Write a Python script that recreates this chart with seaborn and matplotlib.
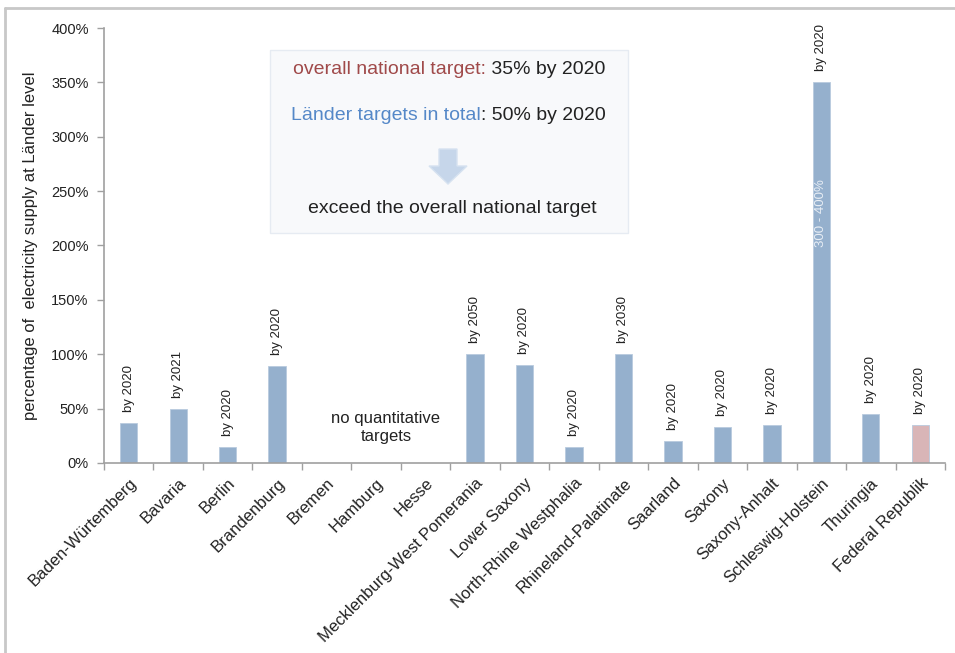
import numpy as np
import pandas as pd
import matplotlib
matplotlib.use("Agg")
import matplotlib.pyplot as plt
from matplotlib.patches import Rectangle, Polygon
from matplotlib.lines import Line2D
import seaborn as sns

states = ["Baden-Würtemberg", "Bavaria", "Berlin", "Brandenburg", "Bremen", "Hamburg",
          "Hesse", "Mecklenburg-West Pomerania", "Lower Saxony", "North-Rhine Westphalia",
          "Rhineland-Palatinate", "Saarland", "Saxony", "Saxony-Anhalt",
          "Schleswig-Holstein", "Thuringia", "Federal Republik"]
values = [37, 50, 15, 89, np.nan, np.nan, np.nan, 100, 90, 15, 100, 20, 33, 35, 350, 45, 35]
years = ["by 2020", "by 2021", "by 2020", "by 2020", None, None, None, "by 2050", "by 2020",
         "by 2020", "by 2030", "by 2020", "by 2020", "by 2020", "by 2020", "by 2020", "by 2020"]
yticks = [0, 50, 100, 150, 200, 250, 300, 350, 400]
ytick_labels = ["0%", "50%", "100%", "150%", "200%", "250%", "300%", "350%", "400%"]

BLUE = "#95b0cd"
PINK = "#d9b5b7"
palette = {s: (PINK if s == "Federal Republik" else BLUE) for s in states}

sns.set_theme(style="white")
plt.rcParams["font.family"] = ["Liberation Sans", "DejaVu Sans"]

W, H = 955, 653
fig = plt.figure(figsize=(W / 100, H / 100), dpi=100)
ax = fig.add_axes([104 / W, 1 - 463 / H, (945 - 104) / W, (463 - 28) / H])

df = pd.DataFrame({"state": states, "value": values})
sns.barplot(data=df, x="state", y="value", hue="state", palette=palette, order=states,
            hue_order=states, width=0.35, saturation=1, legend=False, ax=ax,
            edgecolor="#b9cade", linewidth=0.6)

ax.set_xlim(-0.5, len(states) - 0.5)
ax.set_ylim(0, 400)
ax.set_yticks(yticks)
ax.set_yticklabels(ytick_labels, fontsize=10.5, color="#222222")
ax.set_xticks(range(len(states)))
ax.set_xticklabels(states, rotation=45, ha="right", va="top", rotation_mode="anchor",
                   fontsize=12, color="#222222")
ax.set_xticks(np.arange(-0.5, len(states), 1.0), minor=True)
ax.tick_params(axis="x", which="major", length=0, pad=9)
ax.tick_params(axis="x", which="minor", length=5, width=1, color="#a0a0a0", direction="out", bottom=True)
ax.tick_params(axis="y", length=5, width=1, color="#a0a0a0", direction="out", left=True, pad=6)
ax.set_xlabel("")
ax.set_ylabel("percentage of  electricity supply at Länder level", fontsize=12,
              color="#222222", labelpad=6)
ax.yaxis.set_label_coords(-0.078, 0.5)
for side in ["top", "right"]:
    ax.spines[side].set_visible(False)
for side in ["left", "bottom"]:
    ax.spines[side].set_color("#a0a0a0")
    ax.spines[side].set_linewidth(1.2)
ax.grid(False)

for i, (v, y) in enumerate(zip(values, years)):
    if y is None or np.isnan(v):
        continue
    ax.annotate(y, xy=(i, v), xytext=(0, 8), textcoords="offset points", rotation=90,
                ha="center", va="bottom", fontsize=9.5, color="#222222")

ax.text(14, 230, "300 - 400%", rotation=90, ha="center", va="center", fontsize=9.5,
        color="#e8eef5")
ax.text(5.2, 33, "no quantitative\ntargets", ha="center", va="center", fontsize=12,
        color="#222222", linespacing=1.25)

def fx(x):
    return x / W

def fy(y):
    return 1 - y / H

# Info box
fig.patches.append(Rectangle((fx(270), fy(233)), fx(628) - fx(270), fy(50) - fy(233),
                             transform=fig.transFigure, facecolor="#f8f9fb",
                             edgecolor="#e6ebf2", linewidth=1, zorder=0))
fig.text(fx(486), fy(70), "overall national target:", ha="right", va="center",
         fontsize=14, color="#a04a4a")
fig.text(fx(486), fy(70), " 35% by 2020", ha="left", va="center", fontsize=14,
         color="#222222")
fig.text(fx(481), fy(115), "Länder targets in total", ha="right", va="center",
         fontsize=14, color="#5588c8")
fig.text(fx(481), fy(115), ": 50% by 2020", ha="left", va="center", fontsize=14,
         color="#222222")
fig.text(fx(452), fy(209), "exceed the overall national target", ha="center", va="center",
         fontsize=14, color="#222222")

cx = 448
arrow_pts = [(cx - 9, 149), (cx + 9, 149), (cx + 9, 166), (cx + 19, 166), (cx, 184),
             (cx - 19, 166), (cx - 9, 166)]
fig.patches.append(Polygon([(fx(x), fy(y)) for x, y in arrow_pts], closed=True,
                           transform=fig.transFigure, facecolor="#c6d6ea",
                           edgecolor="#d6e2f0", linewidth=1, zorder=1))

# outer frame
fig.add_artist(Line2D([fx(5), fx(5)], [fy(8), 0], transform=fig.transFigure,
                      color="#c8c8c8", linewidth=2))
fig.add_artist(Line2D([fx(5), 1], [fy(8), fy(8)], transform=fig.transFigure,
                      color="#c8c8c8", linewidth=2))

fig.savefig("out.png", dpi=100)
